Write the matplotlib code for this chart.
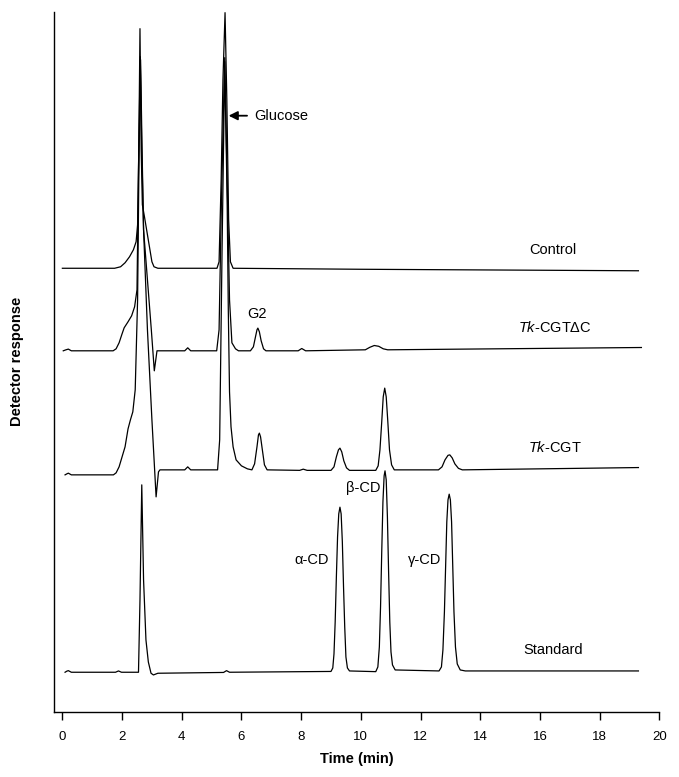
import matplotlib.pyplot as plt

# 字体设置
plt.rcParams['font.family'] = ['Liberation Sans', 'DejaVu Sans']
plt.rcParams['mathtext.fontset'] = 'custom'
plt.rcParams['mathtext.rm'] = 'Liberation Sans'
plt.rcParams['mathtext.it'] = 'Liberation Sans:italic'

# 色谱数据 (时间 min, 检测器响应 任意单位)
control_t = [0.0, 1.75, 1.95, 2.1, 2.25, 2.38, 2.47, 2.52, 2.56, 2.60, 2.64, 2.68, 2.75, 2.85, 3.0, 3.07, 3.2,
             5.18, 5.25, 5.32, 5.38, 5.45, 5.51, 5.57, 5.63, 5.72, 10.0, 19.3]
control_y = [443.5, 443.5, 445, 449, 455, 462, 470, 487, 562, 683, 562, 507, 495, 477, 450, 445, 443.5,
             443.5, 450, 532, 632, 699, 612, 492, 450, 443.5, 442.5, 441]

dc_t = [0.03, 0.12, 0.2, 0.3, 1.7, 1.8, 1.9, 2.0, 2.07, 2.2, 2.32, 2.42, 2.5, 2.56, 2.61, 2.66, 2.72, 2.85, 2.98,
        3.08, 3.17, 4.1, 4.2, 4.3, 5.17, 5.25, 5.33, 5.44, 5.52, 5.6, 5.68, 5.8, 5.9,
        6.3, 6.4, 6.47, 6.52, 6.55, 6.6, 6.66, 6.74, 6.82, 7.9, 8.02, 8.15,
        10.15, 10.3, 10.45, 10.6, 10.75, 10.9, 19.4]
dc_y = [361, 362, 362.7, 361, 361, 363, 369, 378, 384, 390, 396, 405, 422, 562, 655, 562, 482, 432, 382,
        341, 361, 361, 364, 361, 361, 382, 512, 654, 532, 412, 369, 363, 361,
        361, 365, 375, 382, 383.7, 380, 371, 363, 361, 361, 363.3, 361,
        362, 364.5, 366.3, 365.5, 363, 362, 364.3]

cgt_t = [0.09, 0.15, 0.2, 0.3, 1.71, 1.8, 1.9, 2.0, 2.1, 2.2, 2.28, 2.36, 2.44, 2.52, 2.57, 2.62, 2.67, 2.72,
         2.85, 3.0, 3.14, 3.22, 3.27,
         4.1, 4.2, 4.3, 5.2, 5.27, 5.35, 5.44, 5.52, 5.56, 5.6, 5.65, 5.72, 5.82, 6.0, 6.2,
         6.35, 6.44, 6.52, 6.57, 6.6, 6.64, 6.7, 6.77, 6.86, 7.95, 8.07, 8.2,
         9.0, 9.1, 9.18, 9.25, 9.3, 9.36, 9.43, 9.52, 9.62,
         10.5, 10.58, 10.64, 10.7, 10.75, 10.8, 10.85, 10.9, 10.96, 11.03, 11.12,
         12.6, 12.72, 12.82, 12.92, 12.98, 13.06, 13.15, 13.27, 13.4, 19.3]
cgt_y = [237, 238, 238.7, 237, 237, 239, 245, 255, 265, 283, 292, 300, 322, 412, 562, 652, 562, 482,
         382, 292, 215, 240, 242,
         242, 245, 242, 242, 272, 462, 650, 512, 400, 320, 285, 265, 252, 246, 243,
         242, 248, 265, 277, 278.7, 275, 262, 247, 242, 241.5, 242.7, 241.5,
         241.5, 245, 255, 262, 263.7, 260, 251, 244, 241.5,
         241.5, 246, 262, 290, 315, 323.7, 315, 292, 262, 247, 242,
         242, 245, 252, 256.5, 257, 254, 248, 243.5, 242, 244.3]

std_t = [0.09, 0.15, 0.2, 0.3, 1.78, 1.88, 1.98, 2.55, 2.60, 2.66, 2.72, 2.8, 2.88, 2.97, 3.05, 3.2,
         5.4, 5.5, 5.6,
         9.0, 9.06, 9.1, 9.14, 9.18, 9.22, 9.26, 9.30, 9.34, 9.38, 9.42, 9.46, 9.5, 9.55, 9.62,
         10.5, 10.57, 10.62, 10.66, 10.7, 10.74, 10.78, 10.81, 10.85, 10.89, 10.93, 10.97, 11.01, 11.06, 11.15,
         12.62, 12.7, 12.75, 12.8, 12.84, 12.88, 12.92, 12.96, 13.0, 13.04, 13.08, 13.12, 13.17, 13.23, 13.33,
         13.5, 19.3]
std_y = [39.7, 40.8, 41.3, 39.7, 39.7, 41, 39.7, 39.7, 112, 227, 132, 72, 50, 38.7, 37, 38.7,
         39.5, 41.3, 39.7,
         40.5, 44, 58, 90, 135, 175, 198, 204.7, 198, 170, 125, 85, 55, 44, 41,
         40.3, 45, 65, 105, 160, 210, 236, 241, 232, 195, 140, 90, 60, 47, 42,
         41, 45, 62, 100, 145, 190, 212, 217.7, 212, 190, 145, 100, 65, 48, 42,
         41, 41]

trace_names = ['Control', r'$\mathit{Tk}$-CGTΔC', r'$\mathit{Tk}$-CGT', 'Standard']
name_pos = [(16.44, 462), (16.5, 384), (16.5, 264), (16.44, 62)]

peak_labels = ['G2', 'α-CD', 'β-CD', 'γ-CD']
peak_label_pos = [(6.52, 398), (8.36, 152), (10.07, 224), (12.15, 152)]

x_ticks = [0, 2, 4, 6, 8, 10, 12, 14, 16, 18, 20]

fig = plt.figure(figsize=(6.79, 7.77), dpi=100)
ax = fig.add_axes([0.08, 0.0837, 0.891, 0.9013])

for t, y in [(control_t, control_y), (dc_t, dc_y), (cgt_t, cgt_y), (std_t, std_y)]:
    ax.plot(t, y, color='black', linewidth=0.9)

for name, (x, y) in zip(trace_names, name_pos):
    ax.text(x, y, name, ha='center', va='center', fontsize=10.5)

for name, (x, y) in zip(peak_labels, peak_label_pos):
    ax.text(x, y, name, ha='center', va='center', fontsize=10.5)

# 葡萄糖箭头
ax.annotate('Glucose', xy=(5.57, 596), xytext=(6.42, 596), fontsize=10.5, va='center', ha='left',
            arrowprops=dict(arrowstyle='-|>,head_length=0.5,head_width=0.25', color='black',
                            linewidth=1.3, shrinkA=3, shrinkB=0))

ax.set_xlim(-0.27, 20)
ax.set_ylim(0, 700)
ax.set_xticks(x_ticks)
ax.set_yticks([])
ax.tick_params(axis='x', direction='out', length=6, width=1, labelsize=9.5, pad=8)
for side in ['top', 'right']:
    ax.spines[side].set_visible(False)
ax.spines['left'].set_linewidth(1)
ax.spines['bottom'].set_linewidth(1)

ax.set_xlabel('Time (min)', fontsize=10.5, fontweight='bold', labelpad=6)
ax.set_ylabel('Detector response', fontsize=10.5, fontweight='bold', labelpad=22)

plt.savefig('out.png', dpi=100)
plt.close()
